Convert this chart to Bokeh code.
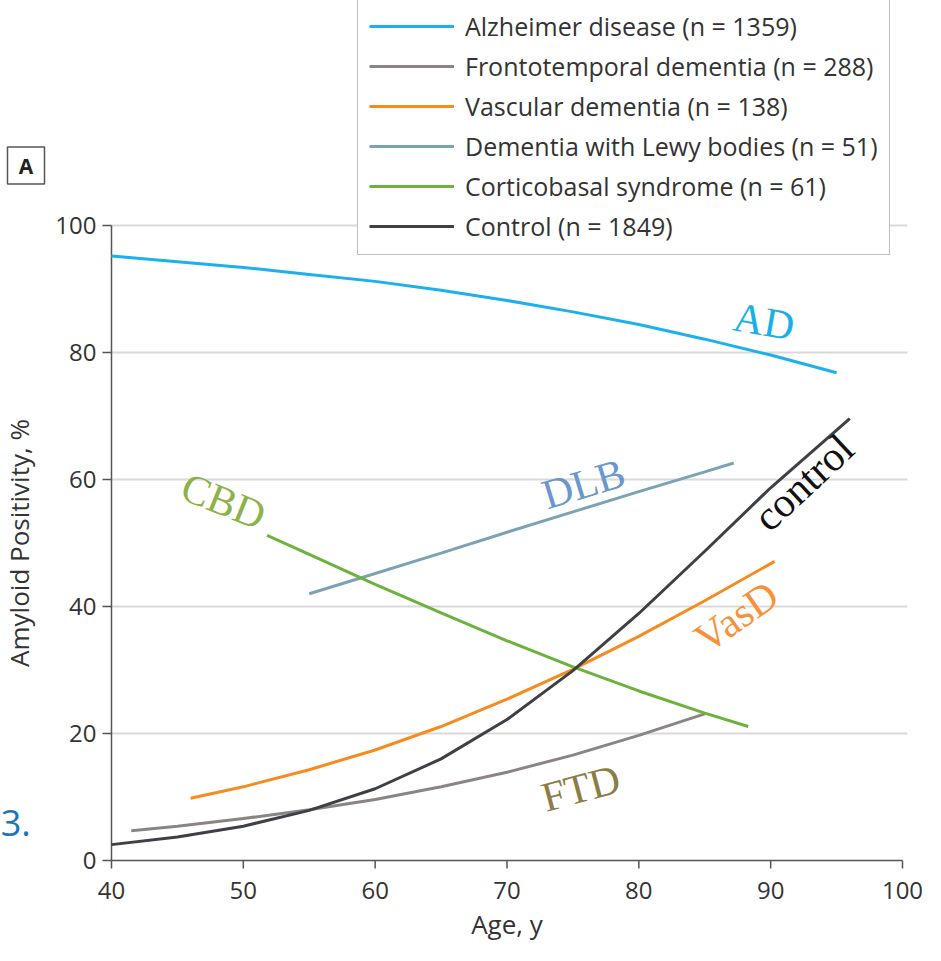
import math
from bokeh.plotting import figure
from bokeh.models import Range1d, Legend, LegendItem, Label
from bokeh.core.properties import value
from bokeh.embed import file_html
from bokeh.resources import INLINE

# ---- data ----
ad_age = [40, 45, 50, 55, 60, 65, 70, 75, 80, 85, 90, 95]
ad_pos = [95.2, 94.3, 93.4, 92.3, 91.2, 89.8, 88.2, 86.4, 84.4, 82.1, 79.6, 76.8]

ftd_age = [41.5, 45, 50, 55, 60, 65, 70, 75, 80, 85]
ftd_pos = [4.7, 5.4, 6.6, 8.0, 9.6, 11.6, 13.9, 16.6, 19.7, 23.1]

vasd_age = [46, 50, 55, 60, 65, 70, 75, 80, 85, 90.3]
vasd_pos = [9.8, 11.6, 14.3, 17.4, 21.1, 25.4, 30.1, 35.3, 40.9, 47.1]

dlb_age = [55, 60, 65, 70, 75, 80, 85, 87.2]
dlb_pos = [42.0, 45.2, 48.4, 51.7, 54.9, 58.1, 61.2, 62.6]

cbd_age = [51.8, 55, 60, 65, 70, 75, 80, 85, 88.3]
cbd_pos = [51.2, 48.2, 43.5, 39.0, 34.6, 30.5, 26.7, 23.2, 21.1]

ctl_age = [40, 45, 50, 55, 60, 65, 70, 75, 80, 85, 90, 96]
ctl_pos = [2.5, 3.7, 5.4, 7.9, 11.3, 16.0, 22.2, 29.9, 38.9, 48.7, 58.7, 69.6]

legend_labels = [
    "Alzheimer disease (n = 1359)",
    "Frontotemporal dementia (n = 288)",
    "Vascular dementia (n = 138)",
    "Dementia with Lewy bodies (n = 51)",
    "Corticobasal syndrome (n = 61)",
    "Control (n = 1849)",
]
x_ticks = [40, 50, 60, 70, 80, 90, 100]
x_tick_labels = ["40", "50", "60", "70", "80", "90", "100"]
y_ticks = [0, 20, 40, 60, 80, 100]
y_tick_labels = ["0", "20", "40", "60", "80", "100"]

series = [
    (ad_age, ad_pos, "#1cb0ec"),
    (ftd_age, ftd_pos, "#8a8583"),
    (vasd_age, vasd_pos, "#f68b1f"),
    (dlb_age, dlb_pos, "#7ba3b3"),
    (cbd_age, cbd_pos, "#6cb33e"),
    (ctl_age, ctl_pos, "#3f3f45"),
]

FONT = "Open Sans"
SERIF = "Liberation Serif"
AXIS = "#555555"
TXT = "#333333"

# the frame covers the whole canvas; axes are drawn at age 40 / 0 %
p = figure(
    x_range=Range1d(31.58, 101.745), y_range=Range1d(-13.386, 135.433),
    frame_width=925, frame_height=945,
    min_border_left=0, min_border_right=0, min_border_top=0, min_border_bottom=0,
    x_axis_location=None, y_axis_location=None,
    output_backend="svg", toolbar_location=None,
)
p.outline_line_color = None
p.background_fill_color = "white"
p.border_fill_color = "white"
p.xgrid.visible = False
p.ygrid.visible = False

# horizontal grid lines
grid_vals = y_ticks[1:]
p.segment(x0=[x_ticks[0]] * len(grid_vals), x1=[100.375] * len(grid_vals),
          y0=grid_vals, y1=grid_vals, line_color="#d9d9d9", line_width=2)

# x axis
p.segment(x0=[x_ticks[0]], x1=[x_ticks[-1]], y0=[0], y1=[0], line_color=AXIS, line_width=1.5)
p.ray(x=x_ticks, y=[0] * len(x_ticks), length=8, length_units="screen", angle=-math.pi / 2,
      line_color=AXIS, line_width=1.5)
p.text(x=x_ticks, y=[0] * len(x_ticks), text=x_tick_labels, y_offset=30,
       text_align="center", text_baseline="middle",
       text_font=value(FONT), text_font_size="24px", text_color=TXT)
p.text(x=[70], y=[0], text=["Age, y"], y_offset=64,
       text_align="center", text_baseline="middle",
       text_font=value(FONT), text_font_size="26px", text_color=TXT)

# y axis
p.segment(x0=[40], x1=[40], y0=[y_ticks[0]], y1=[y_ticks[-1]], line_color=AXIS, line_width=1.5)
p.ray(x=[40] * len(y_ticks), y=y_ticks, length=9, length_units="screen", angle=math.pi,
      line_color=AXIS, line_width=1.5)
p.text(x=[40] * len(y_ticks), y=y_ticks, text=y_tick_labels, x_offset=-15,
       text_align="right", text_baseline="middle",
       text_font=value(FONT), text_font_size="24px", text_color=TXT)
p.text(x=[33.02], y=[50], text=["Amyloid Positivity, %"], angle=math.pi / 2,
       text_align="center", text_baseline="middle",
       text_font=value(FONT), text_font_size="26px", text_color=TXT)

# curves
renderers = []
for xs, ys, col in series:
    r = p.line(xs, ys, line_color=col, line_width=3)
    renderers.append(r)

legend = Legend(
    items=[LegendItem(label=lab, renderers=[r]) for lab, r in zip(legend_labels, renderers)],
    location=(357, 690),
    label_text_font=FONT, label_text_font_size="25px", label_text_color=TXT,
    glyph_width=85, glyph_height=20, label_height=20, label_standoff=11,
    spacing=6, padding=11, margin=0,
    border_line_color="#7f7f7f", border_line_width=1.5,
    background_fill_color="white", background_fill_alpha=1.0,
)
p.add_layout(legend, "center")

# curve annotations
notes = [
    ("AD", 89.5, 84.9, -10, "#1aafe6"),
    ("control", 92.5, 59.5, 43, "#111111"),
    ("CBD", 48.5, 56.6, -22, "#8db24a"),
    ("DLB", 75.8, 59.3, 17, "#6a98cc"),
    ("VasD", 87.4, 38.4, 35, "#f7923a"),
    ("FTD", 75.6, 11.4, 15, "#8c7d45"),
]
for txt, x, y, ang, col in notes:
    p.add_layout(Label(x=x, y=y, text=txt, angle=math.radians(ang),
                       text_align="center", text_baseline="middle",
                       text_font=SERIF, text_font_size="42px", text_color=col))

# panel letter box and stray mark at the left edge
p.rect(x=[33.514], y=[109.44], width=37, height=37, width_units="screen", height_units="screen",
       fill_color="white", line_color=AXIS, line_width=1.5)
p.text(x=[33.514], y=[109.44], text=["A"], text_align="center", text_baseline="middle",
       text_font=value(FONT), text_font_size="21px", text_font_style="bold", text_color="#222222")
p.text(x=[31.6], y=[5.9], text=["3."], text_align="left", text_baseline="middle",
       text_font=value(FONT), text_font_size="36px", text_color="#1a75bc")

open("out.html", "w").write(file_html(p, INLINE))
